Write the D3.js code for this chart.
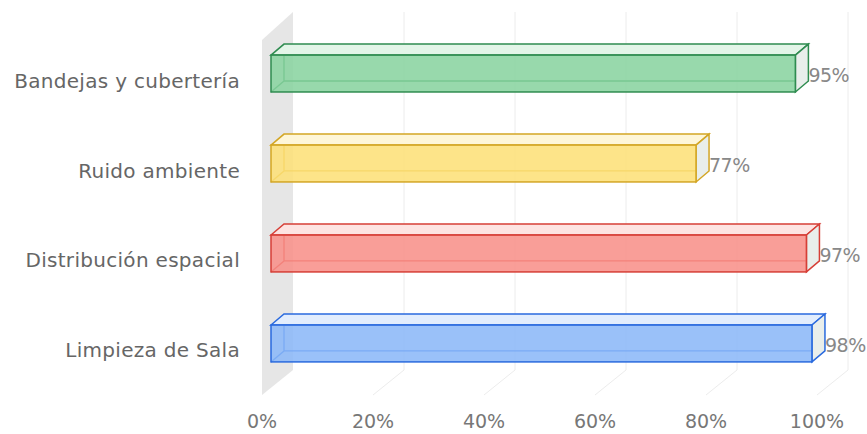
<!DOCTYPE html>
<html>
<head>
<meta charset="utf-8">
<script src="https://cdn.jsdelivr.net/npm/d3@7"></script>
<style>
  body { margin: 0; background: #fff; }
  svg text { font-family: "DejaVu Sans", sans-serif; }
</style>
</head>
<body>
<svg id="chart" width="867" height="434"></svg>
<script>
const categories = ["Bandejas y cubertería", "Ruido ambiente", "Distribución espacial", "Limpieza de Sala"]
const values = [95, 77, 97, 98]
const tickValues = [0, 20, 40, 60, 80, 100]
const fills = ["#86d29e", "#fddf74", "#f88d86", "#88b6f8"]
const strokes = ["#2f8c50", "#d3a625", "#d63f37", "#2a6ade"]
const tops = ["#e3f5e8", "#fef6d8", "#fde4e2", "#e2edfd"]

const svg = d3.select("#chart")

// back plane, front plane (where ticks sit) and the plane the bars sit in
const xBack = d3.scaleLinear().domain([0, 100]).range([293, 848])
const xFront = d3.scaleLinear().domain([0, 100]).range([262, 817])
const xBar = d3.scaleLinear().domain([0, 100]).range([271, 823])
const y = d3.scaleBand().domain(categories).range([2, 415]).padding(0.59)

const depthX = 13, depthY = -11
const backTop = 12, backBottom = 370, frontTop = 40, frontBottom = 395

// left wall
svg.append("polygon")
    .attr("points", [[xFront(0), frontTop], [xBack(0), backTop], [xBack(0), backBottom], [xFront(0), frontBottom]].join(" "))
    .attr("fill", "#e6e6e6")

// grid lines
const grid = svg.append("g")
grid.selectAll(".gv")
    .data(tickValues.slice(1))
    .enter()
    .append("line")
    .attr("x1", d => xBack(d)).attr("x2", d => xBack(d))
    .attr("y1", backTop).attr("y2", backBottom)
    .attr("stroke", "#ececec")
grid.selectAll(".gd")
    .data(tickValues.slice(1))
    .enter()
    .append("line")
    .attr("x1", d => xFront(d)).attr("x2", d => xBack(d))
    .attr("y1", frontBottom).attr("y2", backBottom)
    .attr("stroke", "#ececec")

// tick labels
svg.selectAll(".tick-label")
    .data(tickValues)
    .enter()
    .append("text")
    .attr("x", d => xFront(d))
    .attr("y", 428)
    .attr("text-anchor", "middle")
    .attr("font-size", "19px")
    .attr("fill", "#777")
    .text(d => d + "%")

// category labels
svg.selectAll(".cat-label")
    .data(categories)
    .enter()
    .append("text")
    .attr("x", 240)
    .attr("y", d => y(d) + y.bandwidth() / 2 + 7)
    .attr("dy", "0.35em")
    .attr("text-anchor", "end")
    .attr("font-size", "20px")
    .attr("letter-spacing", "0.3px")
    .attr("fill", "#666")
    .text(d => d)

// 3d bars
const bars = svg.selectAll(".bar")
    .data(values)
    .enter()
    .append("g")
    .attr("class", "bar")

bars.each(function (v, i) {
    const g = d3.select(this)
    const x0 = xBar(0), x1 = xBar(v)
    const y0 = y(categories[i]), y1 = y0 + y.bandwidth()
    const dx = depthX, dy = depthY
    const col = strokes[i]

    // back edges seen through the glass
    g.append("path")
        .attr("d", `M${x0 + dx},${y1 + dy}L${x0 + dx},${y0 + dy}M${x0 + dx},${y1 + dy}L${x1 + dx},${y1 + dy}M${x0},${y1}L${x0 + dx},${y1 + dy}`)
        .attr("stroke", col).attr("stroke-width", 1.3).attr("fill", "none")
    // top face
    g.append("polygon")
        .attr("points", [[x0, y0], [x0 + dx, y0 + dy], [x1 + dx, y0 + dy], [x1, y0]].join(" "))
        .attr("fill", tops[i]).attr("stroke", col).attr("stroke-width", 1.5)
    // right face
    g.append("polygon")
        .attr("points", [[x1, y0], [x1 + dx, y0 + dy], [x1 + dx, y1 + dy], [x1, y1]].join(" "))
        .attr("fill", "#e9eeeb").attr("stroke", col).attr("stroke-width", 1.5)
    // front face
    g.append("rect")
        .attr("x", x0).attr("y", y0)
        .attr("width", x1 - x0).attr("height", y1 - y0)
        .attr("fill", fills[i]).attr("fill-opacity", 0.85)
        .attr("stroke", col).attr("stroke-width", 1.5)

    g.append("text")
        .attr("x", x1 + dx)
        .attr("y", (y0 + y1) / 2 + 2)
        .attr("dy", "0.35em")
        .attr("font-size", "19px")
        .attr("letter-spacing", "-0.5px")
        .attr("fill", "#888")
        .text(v + "%")
})
</script>
</body>
</html>
